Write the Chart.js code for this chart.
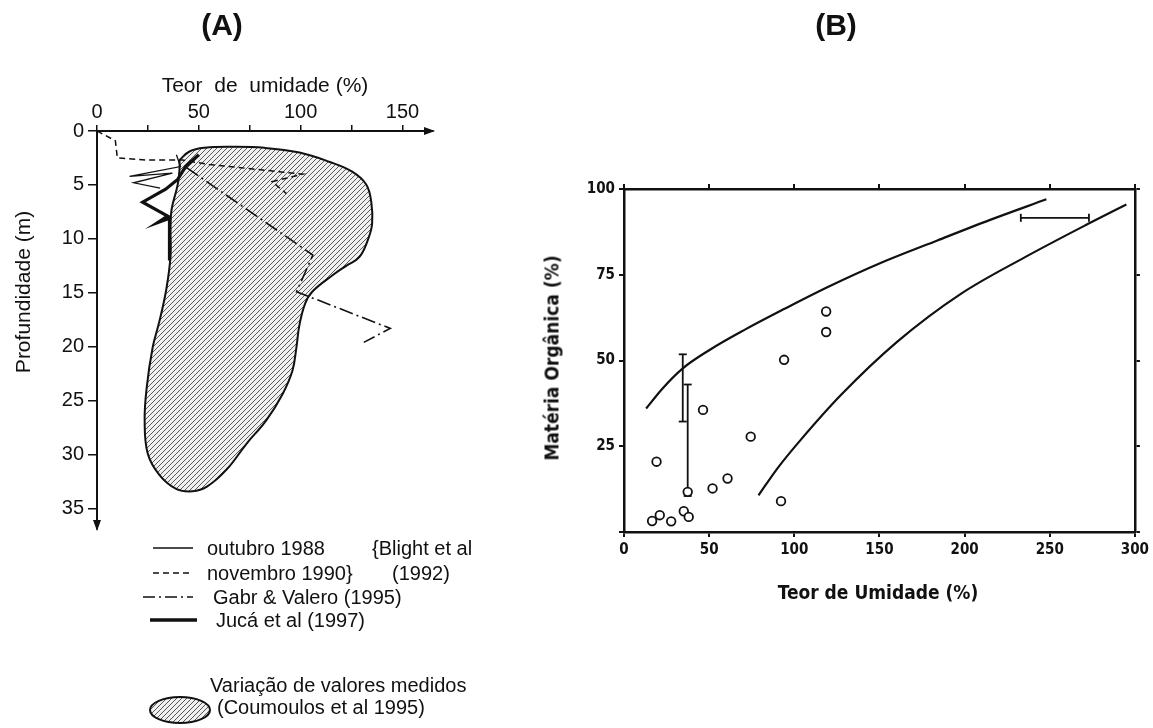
<!DOCTYPE html>
<html><head><meta charset="utf-8">
<script src="https://cdn.jsdelivr.net/npm/chart.js@4.4.0/dist/chart.umd.min.js"></script>
<style>
html,body{margin:0;padding:0;background:#fff;width:1153px;height:728px;overflow:hidden;font-family:'Liberation Sans',Arial,sans-serif;color:#111;}
.t{position:absolute;white-space:nowrap;color:#111;line-height:1;}
.c{transform:translate(-50%,-50%);}
.r{transform:translate(-50%,-50%) rotate(-90deg);}
.l{transform:translateY(-50%);}
#ca{position:absolute;left:0;top:0;}
#cb{position:absolute;left:470px;top:0;}
#leg{position:absolute;left:0;top:0;}
.bc{font-family:'DejaVu Sans Condensed','Liberation Sans Narrow','Liberation Sans',Arial,sans-serif;font-weight:bold;}
</style></head><body>
<canvas id="ca" width="470" height="545"></canvas>
<canvas id="cb" width="683" height="728"></canvas>

<div class="t c" style="left:222px;top:25px;font-size:30px;font-weight:bold;">(A)</div>
<div class="t c" style="left:836px;top:25px;font-size:30px;font-weight:bold;">(B)</div>
<div class="t c" style="left:265px;top:84px;font-size:21px;">Teor&nbsp; de&nbsp; umidade (%)</div>
<div class="t r" style="left:22px;top:292px;font-size:21px;">Profundidade (m)</div>
<div class="t r bc" style="left:552px;top:358px;font-size:19px;">Matéria Orgânica (%)</div>
<div class="t c bc" style="left:878px;top:592px;font-size:19px;">Teor de Umidade (%)</div>

<svg id="leg" width="470" height="728">
  <defs>
    <pattern id="hp" width="5" height="5" patternUnits="userSpaceOnUse">
      <rect width="5" height="5" fill="#f0f0f0"/>
      <path d="M0,5 L5,0 M-1,1 L1,-1 M4,6 L6,4" stroke="#555" stroke-width="1"/>
    </pattern>
  </defs>
  <line x1="153" y1="548" x2="193" y2="548" stroke="#111" stroke-width="1.4"/>
  <line x1="153" y1="573" x2="193" y2="573" stroke="#111" stroke-width="1.4" stroke-dasharray="6 4"/>
  <line x1="143" y1="597" x2="193" y2="597" stroke="#111" stroke-width="1.4" stroke-dasharray="12 4 2 4"/>
  <line x1="150" y1="620" x2="197" y2="620" stroke="#111" stroke-width="3.5"/>
  <ellipse cx="180" cy="710" rx="30" ry="13" fill="url(#hp)" stroke="#111" stroke-width="2"/>
</svg>
<div class="t l" style="left:207px;top:548px;font-size:20px;">outubro 1988</div>
<div class="t l" style="left:207px;top:573px;font-size:20px;">novembro 1990}</div>
<div class="t l" style="left:372px;top:548px;font-size:20px;">{Blight et al</div>
<div class="t l" style="left:392px;top:573px;font-size:20px;">(1992)</div>
<div class="t l" style="left:213px;top:597px;font-size:20px;">Gabr &amp; Valero (1995)</div>
<div class="t l" style="left:216px;top:620px;font-size:20px;">Jucá et al (1997)</div>
<div class="t l" style="left:210px;top:685px;font-size:20px;">Variação de valores medidos</div>
<div class="t l" style="left:217px;top:707px;font-size:20px;">(Coumoulos et al 1995)</div>

<script>
// ===== Panel A data: Teor de umidade (%) vs Profundidade (m) =====
const umidadeTicksA = [0, 25, 50, 75, 100, 125, 150];
const umidadeLabelsA = [0, 50, 100, 150];
const profTicksA = [0, 5, 10, 15, 20, 25, 30, 35];

const outubro1988U = [39, 41, 16, 37, 18, 31];
const outubro1988P = [2.2, 3.3, 4.2, 3.9, 4.8, 5.3];

const novembro1990U = [0, 9, 10, 25, 42, 55, 101, 86, 93];
const novembro1990P = [0, 0.9, 2.5, 2.7, 2.7, 3.1, 4.0, 4.7, 5.8];

const gabrU = [44, 106, 98, 144, 131];
const gabrP = [3.4, 11.5, 14.9, 18.3, 19.6];

const jucaU = [50, 43.5, 39.6, 33.7, 22.4, 34.7, 29.8, 35.6, 35.6];
const jucaP = [2.2, 3.3, 4.5, 5.4, 6.6, 7.9, 8.5, 8.1, 12.0];

const coumoulosU = [40.5, 45.4, 52.8, 66.5, 82.2, 99.4, 114, 125.3, 132.2, 134.7,
  135.1, 133.2, 128.8, 122.4, 115.5, 105.7, 102.2, 99.4, 97.9, 96,
  91.1, 83.2, 73.4, 63.6, 53.8, 46.9, 39.1, 30.7, 24.9, 23.4,
  24.4, 27.3, 30.7, 34.1, 36.1, 36.1, 36.6, 39.6, 40.5];
const coumoulosP = [2.7, 1.9, 1.56, 1.47, 1.56, 2.0, 2.85, 3.77, 4.96, 6.6,
  8.6, 10.0, 11.7, 12.5, 13.4, 14.9, 16.0, 18.0, 20.1, 22.2,
  24.4, 26.8, 29.0, 31.4, 33.0, 33.4, 33.2, 31.9, 29.9, 26.8,
  23.8, 20.1, 17.6, 14.6, 11.6, 9.1, 7.3, 5.0, 3.6];

// ===== Panel B data: Teor de Umidade (%) vs Matéria Orgânica (%) =====
const pontosU  = [94, 46.4, 74.4, 19.1, 60.8, 52, 37.4, 92.2, 35.1, 38, 21, 16.5, 27.7, 118.7, 118.7];
const pontosMO = [50.2, 35.6, 27.8, 20.5, 15.6, 12.7, 11.7, 9.0, 6.05, 4.4, 4.9, 3.2, 3.1, 64.3, 58.3];

const curvaSupU  = [13, 22, 34, 50, 71, 94, 120, 151, 184, 215, 248];
const curvaSupMO = [36, 41.5, 47.5, 53, 59, 65, 71.5, 78.5, 85, 91, 97];

const curvaInfU  = [79, 90, 104, 127.5, 160.5, 198, 235, 272, 295];
const curvaInfMO = [10.7, 18.5, 27, 40, 55.5, 69.5, 80, 89.7, 95.5];

const barraVU   = [34.5, 37.4];
const barraVMin = [32.2, 10.5];
const barraVMax = [51.8, 43.0];

const barraHMO  = [91.6];
const barraHMin = [233];
const barraHMax = [273];

// ===== helpers =====
const pts = (xs, ys) => xs.map((x, i) => ({ x: x, y: ys[i] }));
function hatch() {
  const c = document.createElement('canvas'); c.width = 5; c.height = 5;
  const g = c.getContext('2d');
  g.fillStyle = '#f0f0f0'; g.fillRect(0, 0, 5, 5);
  g.strokeStyle = '#5a5a5a'; g.lineWidth = 1;
  g.beginPath();
  g.moveTo(0, 5); g.lineTo(5, 0);
  g.moveTo(-1, 1); g.lineTo(1, -1);
  g.moveTo(4, 6); g.lineTo(6, 4);
  g.stroke();
  return g.createPattern(c, 'repeat');
}
Chart.defaults.font.family = "'Liberation Sans', Arial, sans-serif";
Chart.defaults.color = '#111';

const arrowPlugin = {
  id: 'arrows',
  afterDraw(c) {
    const a = c.chartArea, g = c.ctx;
    g.save(); g.fillStyle = '#111';
    g.beginPath(); g.moveTo(a.right + 2, a.top); g.lineTo(a.right - 9, a.top - 4); g.lineTo(a.right - 9, a.top + 4); g.closePath(); g.fill();
    g.beginPath(); g.moveTo(a.left, a.bottom + 2); g.lineTo(a.left - 4, a.bottom - 9); g.lineTo(a.left + 4, a.bottom - 9); g.closePath(); g.fill();
    g.restore();
  }
};

const lineDs = (xs, ys, extra) => Object.assign({
  data: pts(xs, ys), showLine: true, borderColor: '#111', borderWidth: 1.4,
  pointRadius: 0, pointHoverRadius: 0, tension: 0, fill: false, order: 1
}, extra);

new Chart(document.getElementById('ca'), {
  type: 'scatter',
  data: {
    datasets: [
      lineDs(coumoulosU.concat([coumoulosU[0]]), coumoulosP.concat([coumoulosP[0]]),
        { fill: 'shape', backgroundColor: hatch(), borderWidth: 2, tension: 0.4, order: 10 }),
      lineDs(outubro1988U, outubro1988P, { borderWidth: 1.3 }),
      lineDs(novembro1990U, novembro1990P, { borderWidth: 1.5, borderDash: [6, 4] }),
      lineDs(gabrU, gabrP, { borderWidth: 1.6, borderDash: [14, 4, 2, 4] }),
      lineDs(jucaU, jucaP, { borderWidth: 3.2 })
    ]
  },
  options: {
    responsive: false, animation: false, devicePixelRatio: 1,
    layout: { padding: { top: 0, left: 0, right: 37, bottom: 12 } },
    plugins: { legend: { display: false }, tooltip: { enabled: false } },
    scales: {
      x: {
        type: 'linear', position: 'top', min: 0, max: 165,
        afterBuildTicks: s => { s.ticks = umidadeTicksA.map(v => ({ value: v })); },
        afterFit: s => { s.height = 131; },
        ticks: { callback: v => umidadeLabelsA.includes(v) ? String(v) : '', font: { size: 20 }, padding: 1, maxRotation: 0, autoSkip: false },
        grid: { drawOnChartArea: false, drawTicks: true, tickLength: 6, color: '#111', lineWidth: 1.5 },
        border: { display: true, color: '#111', width: 2 }
      },
      y: {
        type: 'linear', reverse: true, min: 0, max: 36.9,
        afterBuildTicks: s => { s.ticks = profTicksA.map(v => ({ value: v })); },
        afterFit: s => { s.width = 97; },
        ticks: { font: { size: 20 }, padding: 4, autoSkip: false },
        grid: { drawOnChartArea: false, drawTicks: true, tickLength: 9, color: '#111', lineWidth: 1.5 },
        border: { display: true, color: '#111', width: 2 }
      }
    }
  },
  plugins: [arrowPlugin]
});

const condFont = "'DejaVu Sans Condensed','Liberation Sans Narrow','Liberation Sans',Arial,sans-serif";
const barDs = (data, rot) => ({
  data: data, showLine: true, borderColor: '#111', borderWidth: 1.8, fill: false,
  pointStyle: 'line', pointRadius: 4, pointHoverRadius: 4, pointBorderWidth: 1.8,
  pointBorderColor: '#111', pointRotation: rot, tension: 0
});

const bDatasets = [
  { data: pts(pontosU, pontosMO), pointStyle: 'circle', pointRadius: 4.3, pointHoverRadius: 4.3,
    pointBorderWidth: 1.8, pointBorderColor: '#111', pointBackgroundColor: '#fff', showLine: false },
  { data: pts(curvaSupU, curvaSupMO), showLine: true, borderColor: '#111', borderWidth: 2.2, pointRadius: 0, cubicInterpolationMode: 'monotone', fill: false },
  { data: pts(curvaInfU, curvaInfMO), showLine: true, borderColor: '#111', borderWidth: 2.2, pointRadius: 0, cubicInterpolationMode: 'monotone', fill: false }
];
barraVU.forEach((u, i) => bDatasets.push(barDs([{ x: u, y: barraVMin[i] }, { x: u, y: barraVMax[i] }], 0)));
barraHMO.forEach((m, i) => bDatasets.push(barDs([{ x: barraHMin[i], y: m }, { x: barraHMax[i], y: m }], 90)));

const axisCommon = {
  grid: { drawOnChartArea: false, drawTicks: true, tickLength: 5, color: '#111', lineWidth: 2 },
  border: { display: true, color: '#111', width: 2.5 }
};

new Chart(document.getElementById('cb'), {
  type: 'scatter',
  data: { datasets: bDatasets },
  options: {
    responsive: false, animation: false, devicePixelRatio: 1,
    layout: { padding: { top: 189, left: 0, right: 17, bottom: 156 } },
    plugins: { legend: { display: false }, tooltip: { enabled: false } },
    scales: {
      x: Object.assign({
        type: 'linear', position: 'bottom', min: 0, max: 300,
        afterFit: s => { s.height = 40; },
        ticks: { stepSize: 50, font: { size: 15, weight: 'bold', family: condFont }, padding: 4, maxRotation: 0 }
      }, axisCommon),
      y: Object.assign({
        type: 'linear', position: 'left', min: 0, max: 100,
        afterFit: s => { s.width = 154; },
        ticks: { stepSize: 25, callback: v => v === 0 ? '' : String(v), font: { size: 15, weight: 'bold', family: condFont }, padding: 4 }
      }, axisCommon),
      x2: Object.assign({
        type: 'linear', position: 'top', min: 0, max: 300,
        afterFit: s => { s.height = 0; },
        ticks: { stepSize: 50, display: false }
      }, axisCommon),
      y2: Object.assign({
        type: 'linear', position: 'right', min: 0, max: 100,
        afterFit: s => { s.width = 0; },
        ticks: { stepSize: 25, display: false }
      }, axisCommon)
    }
  }
});
</script>
</body></html>
